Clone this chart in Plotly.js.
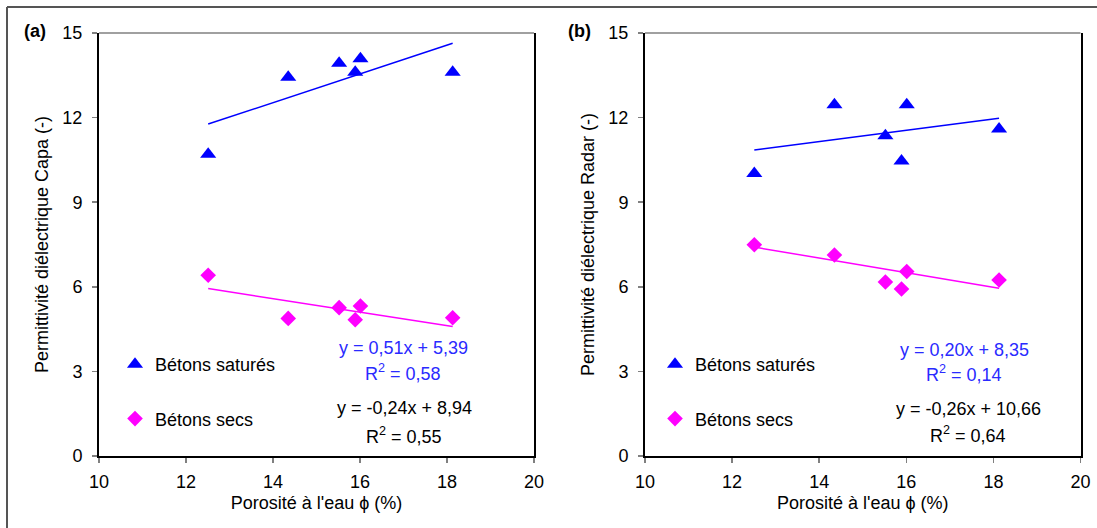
<!DOCTYPE html>
<html>
<head>
<meta charset="utf-8">
<script src="https://cdn.plot.ly/plotly-3.0.1.min.js"></script>
<style>html,body{margin:0;padding:0;background:#fff;}#chart{width:1097px;height:528px;}</style>
</head>
<body>
<div id="chart"></div>
<script>
// ---- data ----
const porosite = [12.51, 14.35, 15.52, 15.89, 16.01, 18.13];
const capaSatures = [10.70, 13.43, 13.93, 13.61, 14.09, 13.61];
const capaSecs = [6.41, 4.88, 5.26, 4.83, 5.32, 4.90];
const radarSatures = [10.02, 12.46, 11.36, 10.46, 12.46, 11.60];
const radarSecs = [7.49, 7.13, 6.17, 5.92, 6.54, 6.24];
// trendline coefficients [slope, intercept] as printed on the chart
const fitCapaSat = [0.51, 5.39];
const fitCapaSec = [-0.24, 8.94];
const fitRadarSat = [0.20, 8.35];
const fitRadarSec = [-0.26, 10.66];
const eqCapaSat = ["y = 0,51x + 5,39", "R<sup>2</sup> = 0,58"];
const eqCapaSec = ["y = -0,24x + 8,94", "R<sup>2</sup> = 0,55"];
const eqRadarSat = ["y = 0,20x + 8,35", "R<sup>2</sup> = 0,14"];
const eqRadarSec = ["y = -0,26x + 10,66", "R<sup>2</sup> = 0,64"];
const xTicks = [10, 12, 14, 16, 18, 20];
const yTicks = [0, 3, 6, 9, 12, 15];

const FONT = "Liberation Sans, Arial, sans-serif";
const BLUE = "#0000ff";
const MAG = "#ff00ff";
const EQBLUE = "#2a2aff";
const FS = 18;

const xmin = Math.min(...porosite), xmax = Math.max(...porosite);
function fitLine(c) { return [xmin, xmax].map(x => c[0] * x + c[1]); }

const triMarker = {symbol: "triangle-up", size: 14, color: BLUE};
const diaMarker = {symbol: "diamond", size: 12, color: MAG};

const traces = [
  {x: porosite, y: capaSatures, type: "scatter", mode: "markers", name: "Bétons saturés",
   marker: triMarker, xaxis: "x", yaxis: "y", legend: "legend", legendgroup: "a1"},
  {x: porosite, y: capaSecs, type: "scatter", mode: "markers", name: "Bétons secs",
   marker: diaMarker, xaxis: "x", yaxis: "y", legend: "legend", legendgroup: "a2"},
  {x: [xmin, xmax], y: fitLine(fitCapaSat), type: "scatter", mode: "lines", showlegend: false,
   line: {color: BLUE, width: 1.5}, xaxis: "x", yaxis: "y", hoverinfo: "skip"},
  {x: [xmin, xmax], y: fitLine(fitCapaSec), type: "scatter", mode: "lines", showlegend: false,
   line: {color: MAG, width: 1.5}, xaxis: "x", yaxis: "y", hoverinfo: "skip"},
  {x: porosite, y: radarSatures, type: "scatter", mode: "markers", name: "Bétons saturés",
   marker: triMarker, xaxis: "x2", yaxis: "y2", legend: "legend2", legendgroup: "b1"},
  {x: porosite, y: radarSecs, type: "scatter", mode: "markers", name: "Bétons secs",
   marker: diaMarker, xaxis: "x2", yaxis: "y2", legend: "legend2", legendgroup: "b2"},
  {x: [xmin, xmax], y: fitLine(fitRadarSat), type: "scatter", mode: "lines", showlegend: false,
   line: {color: BLUE, width: 1.5}, xaxis: "x2", yaxis: "y2", hoverinfo: "skip"},
  {x: [xmin, xmax], y: fitLine(fitRadarSec), type: "scatter", mode: "lines", showlegend: false,
   line: {color: MAG, width: 1.5}, xaxis: "x2", yaxis: "y2", hoverinfo: "skip"}
];

const W = 1097, H = 528;
const px = v => v / W, py = v => (H - v) / H;

function xAxis(d0, d1, anchor) {
  return {domain: [px(d0), px(d1)], anchor: anchor, range: [10, 20], tickvals: xTicks,
    ticks: "outside", ticklen: 5, tickcolor: "#808080", tickwidth: 1.5,
    showline: true, linecolor: "#000", linewidth: 2,
    showgrid: false, zeroline: false, ticklabelstandoff: 3,
    tickfont: {family: FONT, size: FS, color: "#000"},
    title: {text: "Porosité à l'eau ϕ (%)", font: {family: FONT, size: FS, color: "#000"}, standoff: 6}};
}
function yAxis(title, anchor) {
  return {domain: [py(456), py(33)], anchor: anchor, range: [0, 15], tickvals: yTicks,
    ticks: "outside", ticklen: 5, tickcolor: "#808080", tickwidth: 1.5,
    showline: true, linecolor: "#000", linewidth: 2,
    mirror: true, showgrid: false, zeroline: false, ticklabelstandoff: 6,
    tickfont: {family: FONT, size: FS, color: "#000"},
    title: {text: title, font: {family: FONT, size: FS, color: "#000"}, standoff: 9}};
}

function eqAnn(xc, yc, text, color) {
  return {xref: "paper", yref: "paper", x: px(xc), y: py(yc), xanchor: "center", yanchor: "middle",
    text: text, showarrow: false, font: {family: FONT, size: FS, color: color}};
}

const annotations = [
  {xref: "paper", yref: "paper", x: px(35), y: py(31), xanchor: "center", yanchor: "middle",
   text: "<b>(a)</b>", showarrow: false, font: {family: FONT, size: FS, color: "#000"}},
  {xref: "paper", yref: "paper", x: px(579), y: py(31), xanchor: "center", yanchor: "middle",
   text: "<b>(b)</b>", showarrow: false, font: {family: FONT, size: FS, color: "#000"}},
  eqAnn(403, 348, eqCapaSat[0], EQBLUE),
  eqAnn(403, 372, eqCapaSat[1], EQBLUE),
  eqAnn(404, 408, eqCapaSec[0], "#000"),
  eqAnn(404, 435, eqCapaSec[1], "#000"),
  eqAnn(964, 350, eqRadarSat[0], EQBLUE),
  eqAnn(964, 374, eqRadarSat[1], EQBLUE),
  eqAnn(968, 409, eqRadarSec[0], "#000"),
  eqAnn(968, 434, eqRadarSec[1], "#000")
];

const shapes = [
  // plot-area top borders (grey)
  {type: "line", xref: "x domain", yref: "y domain", x0: 0, x1: 1, y0: 1, y1: 1, line: {color: "#808080", width: 1.5}},
  {type: "line", xref: "x2 domain", yref: "y2 domain", x0: 0, x1: 1, y0: 1, y1: 1, line: {color: "#808080", width: 1.5}},
  // outer frame (top and left edges)
  {type: "line", xref: "paper", yref: "paper", x0: px(7), x1: 1, y0: py(7), y1: py(7), line: {color: "#555", width: 2}},
  {type: "line", xref: "paper", yref: "paper", x0: px(7), x1: px(7), y0: 0, y1: py(7), line: {color: "#555", width: 2}}
];

const legendBase = {font: {family: FONT, size: FS, color: "#000"}, bgcolor: "rgba(0,0,0,0)",
  borderwidth: 0, tracegroupgap: 28, itemwidth: 30, traceorder: "grouped",
  yanchor: "top", xanchor: "left", itemclick: false};

const layout = {
  width: W, height: H, margin: {l: 0, r: 0, t: 0, b: 0},
  paper_bgcolor: "#fff", plot_bgcolor: "#fff", font: {family: FONT, size: FS, color: "#000"},
  xaxis: xAxis(99, 534, "y"), yaxis: yAxis("Permittivité diélectrique Capa (-)", "x"),
  xaxis2: xAxis(645, 1080.5, "y2"), yaxis2: yAxis("Permittivité diélectrique Radar (-)", "x2"),
  legend: Object.assign({}, legendBase, {x: px(115), y: py(346)}),
  legend2: Object.assign({}, legendBase, {x: px(655), y: py(346)}),
  annotations: annotations, shapes: shapes, showlegend: true
};

Plotly.newPlot("chart", traces, layout, {displayModeBar: false, staticPlot: true});
</script>
</body>
</html>
